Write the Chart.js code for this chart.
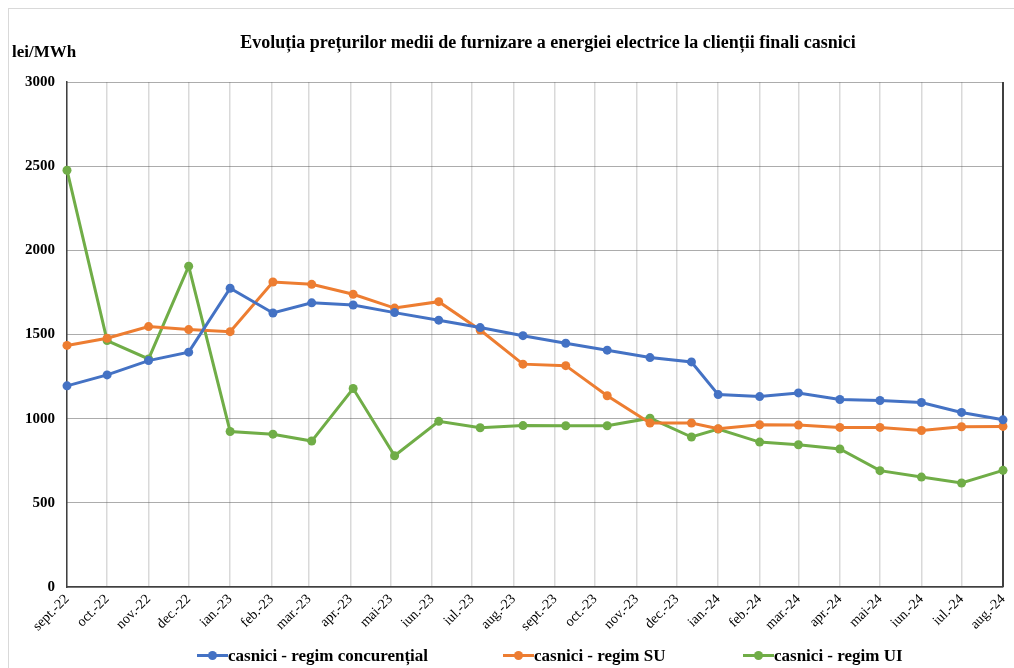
<!DOCTYPE html>
<html>
<head>
<meta charset="utf-8">
<script src="https://cdn.jsdelivr.net/npm/chart.js@4.4.1/dist/chart.umd.min.js"></script>
<style>
  body { margin: 0; background: #fff; }
  #wrap { position: relative; width: 1014px; height: 668px; overflow: hidden; font-family: "Liberation Serif", "Times New Roman", serif; }
  #frame { position: absolute; left: 8px; top: 8px; width: 1100px; height: 700px; border-left: 1px solid #d9d9d9; border-top: 1px solid #d9d9d9; }
  canvas { position: absolute; left: 0; top: 0; }
  .txt { position: absolute; font-weight: bold; color: #000; white-space: nowrap; }
  #title { left: 548px; top: 33px; font-size: 18px; line-height: 18px; transform: translateX(-50%); }
  #unit { left: 12px; top: 43px; font-size: 17px; line-height: 17px; }
  .leg { position: absolute; top: 647px; height: 17px; display: flex; align-items: center; }
  .mk { position: relative; width: 31px; height: 3px; }
  .mk i { position: absolute; left: 11px; top: -3px; width: 9px; height: 9px; border-radius: 50%; }
  .leg span { font-weight: bold; font-size: 17px; line-height: 17px; white-space: nowrap; }
</style>
</head>
<body>
<div id="wrap">
  <div id="frame"></div>
  <canvas id="chart" width="1014" height="668"></canvas>
  <div class="txt" id="title">Evoluția prețurilor medii de furnizare a energiei electrice la clienții finali casnici</div>
  <div class="txt" id="unit">lei/MWh</div>
  <div id="legend"></div>
</div>
<script>
// month labels and their position in days from 1 sept 2022 (date axis)
const monthLabels = ['sept.-22', 'oct.-22', 'nov.-22', 'dec.-22', 'ian.-23', 'feb.-23', 'mar.-23', 'apr.-23', 'mai-23', 'iun.-23', 'iul.-23', 'aug.-23',
  'sept.-23', 'oct.-23', 'nov.-23', 'dec.-23', 'ian.-24', 'feb.-24', 'mar.-24', 'apr.-24', 'mai-24', 'iun.-24', 'iul.-24', 'aug.-24'];
const monthDays = [0, 30, 61, 91, 122, 153, 181, 212, 242, 273, 303, 334, 365, 395, 426, 456, 487, 518, 547, 578, 608, 639, 669, 700];
// the points of 2023 sit a few days after the month start in the source
const pointDays = [0, 30, 61, 91, 122, 154, 183, 214, 245, 278, 309, 341, 373, 404, 436, 467, 487, 518, 547, 578, 608, 639, 669, 700];

const concurential = [1195, 1260, 1345, 1395, 1775, 1628, 1688, 1675, 1630, 1585, 1541, 1493, 1448, 1407, 1363, 1337,
  1143, 1131, 1153, 1114, 1108, 1096, 1037, 993];
const regimSU = [1435, 1478, 1547, 1529, 1517, 1812, 1798, 1739, 1657, 1695, 1527, 1324, 1315, 1136, 974, 974,
  940, 964, 962, 948, 948, 930, 952, 954];
const regimUI = [2476, 1464, 1355, 1906, 924, 908, 867, 1179, 780, 984, 946, 959, 958, 958, 1003, 891,
  938, 861, 845, 820, 691, 653, 618, 693];

const seriesNames = ['casnici - regim concurențial', 'casnici - regim SU', 'casnici - regim UI'];
const seriesColors = ['#4472C4', '#ED7D31', '#70AD47'];
const legendX = [197, 503, 743];

const serif = '"Liberation Serif", "Times New Roman", serif';

function toPoints(vals) {
    return vals.map((v, i) => ({ x: pointDays[i], y: v }));
}

const datasets = [concurential, regimSU, regimUI].map((vals, i) => ({
    label: seriesNames[i],
    data: toPoints(vals),
    borderColor: seriesColors[i],
    backgroundColor: seriesColors[i],
    borderWidth: 3,
    pointRadius: 4.5,
    pointBorderWidth: 0,
    tension: 0,
    clip: false
}));

// dark frame line on the right side of the plot
const rightBorder = {
    id: 'rightBorder',
    beforeDatasetsDraw(chart) {
        const { ctx, chartArea } = chart;
        ctx.save();
        ctx.strokeStyle = '#404040';
        ctx.lineWidth = 2;
        ctx.beginPath();
        ctx.moveTo(chartArea.right, chartArea.top);
        ctx.lineTo(chartArea.right, chartArea.bottom);
        ctx.stroke();
        ctx.restore();
    }
};

new Chart(document.getElementById('chart').getContext('2d'), {
    type: 'line',
    data: { datasets },
    plugins: [rightBorder],
    options: {
        responsive: false,
        animation: false,
        layout: { padding: { top: 82, right: 11, left: 0, bottom: 0 } },
        plugins: { legend: { display: false }, title: { display: false }, tooltip: { enabled: false } },
        scales: {
            x: {
                type: 'linear',
                min: 0,
                max: 700,
                afterBuildTicks: s => { s.ticks = monthDays.map(v => ({ value: v })); },
                afterFit: s => { s.height = 81; s.paddingLeft = 0; s.paddingRight = 0; },
                ticks: {
                    autoSkip: false,
                    minRotation: 45,
                    maxRotation: 45,
                    padding: 4,
                    color: '#000',
                    font: { family: serif, size: 14 },
                    callback: (v, i) => monthLabels[i]
                },
                grid: { color: '#d9d9d9', lineWidth: 1.5, drawTicks: false },
                border: { color: '#404040', width: 1.5 }
            },
            y: {
                min: 0,
                max: 3000,
                afterFit: s => { s.width = 67; },
                ticks: {
                    stepSize: 500,
                    padding: 12,
                    color: '#000',
                    font: { family: serif, size: 15, weight: 'bold' },
                    callback: v => String(v)
                },
                grid: { color: '#595959', lineWidth: 1, drawTicks: false },
                border: { color: '#404040', width: 1.5, dash: [1, 1] }
            }
        }
    }
});

// legend: line with a dot, like the source
const legend = document.getElementById('legend');
seriesNames.forEach((name, i) => {
    const item = document.createElement('div');
    item.className = 'leg';
    item.style.left = legendX[i] + 'px';
    item.innerHTML = `<div class="mk" style="background:${seriesColors[i]}"><i style="background:${seriesColors[i]}"></i></div><span>${name}</span>`;
    legend.appendChild(item);
});
</script>
</body>
</html>
